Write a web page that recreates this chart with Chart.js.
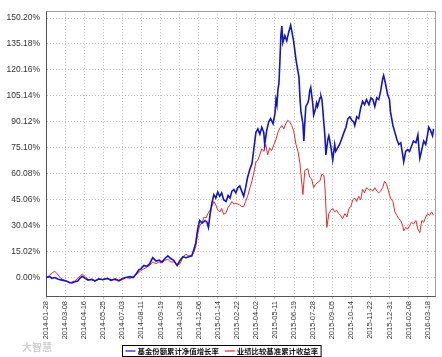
<!DOCTYPE html>
<html>
<head>
<meta charset="utf-8">
<script src="https://cdn.jsdelivr.net/npm/chart.js@4.4.0/dist/chart.umd.min.js"></script>
<style>
  html, body { margin: 0; padding: 0; background: #ffffff; }
  #wrap { width: 442px; height: 357px; position: relative; }
</style>
</head>
<body>
<div id="wrap"><canvas id="c" width="442" height="357"></canvas></div>
<script>
// ---- DATA ----
const startDate = '2014-01-28';
const xTickLabels = ['2014-01-28','2014-03-08','2014-04-16','2014-05-25','2014-07-03','2014-08-11','2014-09-19','2014-10-28','2014-12-06','2015-01-14','2015-02-22','2015-04-02','2015-05-11','2015-06-19','2015-07-28','2015-09-05','2015-10-14','2015-11-22','2015-12-31','2016-02-08','2016-03-18'];
const yTickValues = [0, 15.02, 30.04, 45.06, 60.08, 75.10, 90.12, 105.14, 120.16, 135.18, 150.20];
const seriesNames = ['基金份额累计净值增长率', '业绩比较基准累计收益率'];

// days since 2014-01-28
const navDays = [0,4,8,12,18,25,33,41,49,53,59,65,69,74,80,86,94,100,108,116,125,133,141,149,155,163,172,178,184,190,194,200,206,212,218,225,231,237,243,249,255,261,268,274,280,286,292,298,302,306,310,314,319,325,329,332,335,339,343,347,351,355,359,363,368,372,376,380,384,388,392,396,400,404,408,412,417,421,425,429,433,437,441,445,447,451,455,459,464,468,470,472,474,476,478,480,482,484,488,492,496,500,502,506,511,513,517,519,521,525,527,529,531,535,537,539,541,545,547,551,553,555,560,562,564,566,570,572,576,578,582,584,586,590,592,596,600,604,609,613,617,621,625,629,631,635,639,643,647,651,655,660,664,668,672,676,680,684,688,690,694,698,702,704,709,713,717,721,725,729,731,735,739,743,747,751,756,760,762,764,768,772,776,780,782,786,790,792];
const navValues = [0,0.3,0.5,-0.5,0,-1,-1.5,-2,-3,-3.2,-2.5,-2,-0.5,0.7,-0.5,-1.5,-1,-2,-0.8,-1.3,-0.5,-1.5,-1,-2,-1,0,0.5,0,2,4.5,5,7,6.5,8,11.5,9.5,10,9,11,12.5,11,10,7,10,12,11.5,12,12.5,16,20,28,33,31.5,33,32,29,36,43,48,46,49.5,47,49,45,44,47.5,46,50,51,49,52,53,50,47,52,58,63,66,75,84,86,83,87,84,77,85,90,92,89,95,103,100,109,112,125,140,145.5,136,140,137,142,146,143,137,126,122.5,116,104,96,89,79,90,99,101,103,108,110,101,94,98,101,99,104,105,103,96,82,71,80,82,76,72,68,77,73,75,77,80,84,87,92,93,91,90,88,93,92,98,102,100,103,100,104,103,99,104,103,108,115,117,112,106,103,96,88,84,80,77,78,71,67,73,74,73,76,79,78,82.5,75,69,74,79,77,83,87,85,82,86];

const benchDays = [0,4,8,14,18,22,27,33,41,49,53,59,65,74,80,86,94,100,108,116,125,133,141,149,155,163,172,178,184,190,194,200,206,212,218,225,231,237,243,249,255,261,268,274,280,286,292,298,302,306,310,314,319,323,327,331,335,339,343,347,351,355,359,363,368,372,376,380,384,388,392,396,400,404,408,412,417,421,425,429,433,437,441,445,449,453,457,461,466,470,474,478,482,486,490,494,498,502,506,511,515,519,521,525,529,535,539,543,547,551,555,560,564,568,570,574,578,582,586,590,594,598,602,606,611,615,619,623,627,631,635,639,643,647,651,655,660,664,668,672,676,680,684,688,692,696,700,704,709,713,717,721,725,729,731,735,739,743,747,751,756,760,764,768,772,776,780,784,788,792];
const benchValues = [0,0.5,1.5,3,3.5,2.5,0.5,-1,-2,-3,-2.5,-2,-0.5,2,0.5,-1,-1.5,-2,-1,-1,-0.5,-2,-0.5,-1.5,-0.5,0,-0.5,0.5,1.5,3,4,5,6,7,9,8,9,8.5,10,10.5,9,9,7,8,12,13.5,12.5,13,14.5,18,25,30,32,35,34.5,37,39,41,44,42,39,38,40,36.5,37.5,40.5,42,44,42.5,43,42.5,42,41,41,44,47,52,56,61,67,68,71,74.5,73,77,71,75,73.5,77,80,84,86.5,88,86,89,91,90,88,85,77,73,66,60,48,62,63,58,57,52,54,55,56,60,59,53,29,37,39,40,38,39,37,36,34,37,35,40,41,45,46,44,47,45,51,49,52,50.5,51,50,52,50,49,50,52,55.7,54,50,46,44,38,36,34,33,30,27,29,28,30,32,31,33,28,26,33,32,35,37,36,38,36];

// ---- DERIVED ----
const DAY = 86400000;
const t0 = Date.parse(startDate + 'T00:00:00Z');
const xTickDays = xTickLabels.map(d => Math.round((Date.parse(d + 'T00:00:00Z') - t0) / DAY));
const navPoints = navDays.map((d, i) => ({ x: d, y: navValues[i] }));
const benchPoints = benchDays.map((d, i) => ({ x: d, y: benchValues[i] }));

const frameAndLegend = {
  id: 'frameAndLegend',
  beforeDatasetsDraw(chart) {
    const a = chart.chartArea, ctx = chart.ctx;
    ctx.save();
    ctx.strokeStyle = '#a0a0a0';
    ctx.lineWidth = 1;
    ctx.beginPath();
    ctx.moveTo(Math.round(a.left) + 0.5, Math.round(a.top) + 0.5);
    ctx.lineTo(Math.round(a.right) + 0.5, Math.round(a.top) + 0.5);
    ctx.lineTo(Math.round(a.right) + 0.5, Math.round(a.bottom) + 0.5);
    ctx.stroke();
    ctx.restore();
  },
  afterDraw(chart) {
    const ctx = chart.ctx;
    ctx.save();
    // watermark
    ctx.fillStyle = 'rgba(170,170,170,0.55)';
    ctx.font = 'bold 10px "Noto Sans CJK SC"';
    ctx.textBaseline = 'middle';
    ctx.fillText('大智慧', 22, 347);
    // legend box
    ctx.font = 'bold 7.4px "Noto Sans CJK SC"';
    const items = chart.data.datasets.map(ds => ({ label: ds.label, color: ds.borderColor, w: ctx.measureText(ds.label).width }));
    const lineLen = 10, gap = 2, pad = 3, between = 6;
    let total = pad * 2;
    items.forEach((it, i) => { total += lineLen + gap + it.w + (i < items.length - 1 ? between : 0); });
    const bx = Math.round(chart.width / 2 - total / 2) + 0.5;
    const by = 345.5, bh = 11;
    ctx.strokeStyle = '#000';
    ctx.lineWidth = 1;
    ctx.strokeRect(bx, by, total, bh);
    let x = bx + pad;
    const cy = by + bh / 2;
    items.forEach(it => {
      ctx.strokeStyle = it.color;
      ctx.lineWidth = 1.2;
      ctx.beginPath();
      ctx.moveTo(x, cy); ctx.lineTo(x + lineLen, cy); ctx.stroke();
      x += lineLen + gap;
      ctx.fillStyle = '#111';
      ctx.textBaseline = 'middle';
      ctx.fillText(it.label, x, cy + 0.5);
      x += it.w + between;
    });
    ctx.restore();
  }
};

new Chart(document.getElementById('c'), {
  type: 'line',
  data: {
    datasets: [
      { label: seriesNames[0], data: navPoints, borderColor: '#1414c8', borderWidth: 1.6, pointRadius: 0, tension: 0, fill: false },
      { label: seriesNames[1], data: benchPoints, borderColor: '#e82a2a', borderWidth: 1, pointRadius: 0, tension: 0, fill: false }
    ]
  },
  options: {
    responsive: false,
    animation: false,
    layout: { padding: { left: 0, right: 7, top: 8, bottom: 0 } },
    plugins: { legend: { display: false }, tooltip: { enabled: false } },
    scales: {
      x: {
        type: 'linear', min: 0, max: 795,
        afterFit: s => { s.height = 61; },
        afterBuildTicks: s => { s.ticks = xTickDays.map(v => ({ value: v })); },
        ticks: {
          autoSkip: false, minRotation: 90, maxRotation: 90, padding: 2,
          color: '#333', font: { family: '"Liberation Sans", Arial', size: 7.5 },
          callback: (v, i) => xTickLabels[i]
        },
        grid: { color: '#bcbcbc', lineWidth: 1, tickLength: 3 },
        border: { color: '#555', width: 1, dash: [1, 2] }
      },
      y: {
        min: -10.7, max: 154.2,
        afterFit: s => { s.width = 46; },
        afterBuildTicks: s => { s.ticks = yTickValues.map(v => ({ value: v })); },
        ticks: {
          padding: 6, color: '#333', font: { family: '"Liberation Sans", Arial', size: 8.5 },
          callback: v => v.toFixed(2) + '%'
        },
        grid: { color: '#bcbcbc', lineWidth: 1, drawTicks: false },
        border: { color: '#555', width: 1, dash: [1, 2] }
      }
    }
  },
  plugins: [frameAndLegend]
});
</script>
</body>
</html>
